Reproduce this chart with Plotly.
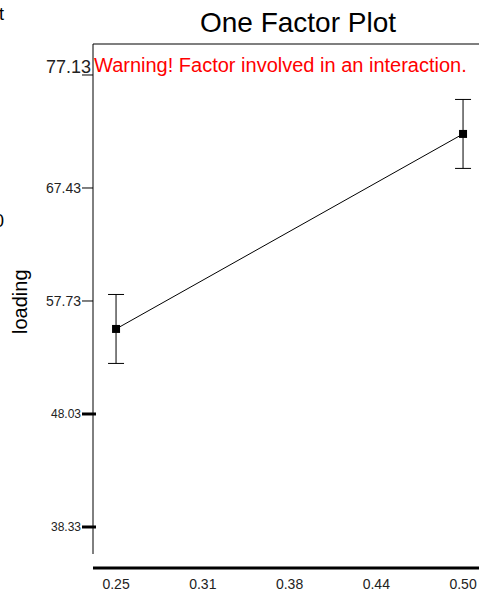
import plotly.graph_objects as go

# Data
levels = [0.25, 0.50]
means = [55.33, 72.07]
errors = [2.96, 2.96]
xtick_vals = [0.25, 0.3125, 0.375, 0.4375, 0.50]
xtick_text = ["0.25", "0.31", "0.38", "0.44", "0.50"]
ytick_vals = [77.13, 67.43, 57.73, 48.03, 38.33]
ytick_text = ["77.13", "67.43", "57.73", "48.03", "38.33"]
ytick_sizes = [18, 14, 14, 12, 12]
ytick_thick = [False, False, False, True, True]

FONT = "Liberation Sans, Arial, sans-serif"
W, H = 479, 592
L, R, T, B = 93, 0, 44, 24
PW = W - L - R

def px_to_paper_x(px):
    return (px - L) / PW

fig = go.Figure()
fig.add_trace(go.Scatter(
    x=levels, y=means, mode="lines+markers",
    line=dict(color="black", width=1),
    marker=dict(symbol="square", size=8, color="black"),
    error_y=dict(type="data", array=errors, visible=True, color="black",
                 thickness=1, width=8),
    showlegend=False, hoverinfo="skip", cliponaxis=False,
))

shapes = [
    # left axis line
    dict(type="line", xref="paper", yref="paper", x0=0, x1=0,
         y0=(568 - 554) / (568 - 44), y1=1, line=dict(color="black", width=1)),
    # top border
    dict(type="line", xref="paper", yref="paper", x0=0, x1=1, y0=1, y1=1,
         line=dict(color="black", width=1.2)),
    # bottom thick axis
    dict(type="line", xref="paper", yref="paper", x0=0, x1=1, y0=0, y1=0,
         line=dict(color="black", width=3)),
]
annotations = []
for v, t, s, thick in zip(ytick_vals, ytick_text, ytick_sizes, ytick_thick):
    shapes.append(dict(type="line", xref="paper", yref="y",
                       x0=px_to_paper_x(82), x1=px_to_paper_x(96 if thick else 93),
                       y0=v, y1=v,
                       line=dict(color="black", width=3 if thick else 1)))
    annotations.append(dict(xref="paper", yref="y", x=px_to_paper_x(82 if s != 18 else 92), y=v,
                            text=t, showarrow=False, xanchor="right",
                            yanchor="middle", yshift=8 if s == 18 else 0,
                            borderpad=0,
                            font=dict(family=FONT, size=s, color="#222")))

annotations.append(dict(xref="paper", yref="paper", x=px_to_paper_x(93), y=1 - (65 - 44) / 524,
                        text="Warning! Factor involved in an interaction.",
                        showarrow=False, xanchor="left", yanchor="middle", borderpad=0,
                        font=dict(family=FONT, size=20, color="red")))
annotations.append(dict(xref="paper", yref="paper", x=px_to_paper_x(20), y=1 - (302 - 44) / 524,
                        text="loading", textangle=-90, showarrow=False,
                        xanchor="center", yanchor="middle",
                        font=dict(family=FONT, size=20, color="black")))
# clipped fragments at left edge
annotations.append(dict(xref="paper", yref="paper", x=px_to_paper_x(5), y=1 - (14 - 44) / 524,
                        text="t", showarrow=False, xanchor="right", yanchor="middle", borderpad=0,
                        font=dict(family=FONT, size=18, color="black")))
annotations.append(dict(xref="paper", yref="paper", x=px_to_paper_x(5), y=1 - (221 - 44) / 524,
                        text="0", showarrow=False, xanchor="right", yanchor="middle", borderpad=0,
                        font=dict(family=FONT, size=18, color="black")))

fig.update_layout(
    width=W, height=H,
    margin=dict(l=L, r=R, t=T, b=B, autoexpand=False),
    paper_bgcolor="white", plot_bgcolor="white",
    title=dict(text="One Factor Plot", x=298 / W, xanchor="center",
               y=1 - 22 / H, yanchor="middle",
               font=dict(family=FONT, size=28, color="black")),
    shapes=shapes, annotations=annotations,
    xaxis=dict(range=[0.2334, 0.5115], tickvals=xtick_vals, ticktext=xtick_text,
               showgrid=False, zeroline=False, showline=False, ticks="",
               ticklabelstandoff=6,
               tickfont=dict(family=FONT, size=14, color="#222")),
    yaxis=dict(range=[34.81, 79.79], showgrid=False, zeroline=False,
               showline=False, showticklabels=False, ticks=""),
)

fig.write_html("out.html", config={"displayModeBar": False},
               post_script="document.body.style.margin='0';document.body.style.overflow='hidden';")
